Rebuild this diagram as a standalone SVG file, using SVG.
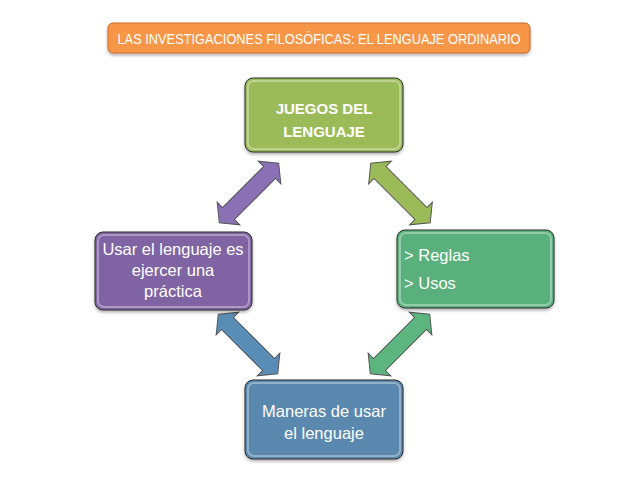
<svg xmlns="http://www.w3.org/2000/svg" xmlns:xlink="http://www.w3.org/1999/xlink" width="638" height="479" viewBox="0 0 638 479">
<style>
.t{font-family:"Liberation Sans",Arial,sans-serif;fill:#fff}
.node{stroke:#2f2f2f;stroke-width:1}
.bevel{fill:none;stroke:#fff;stroke-opacity:0.35;stroke-width:2}
.arr{stroke:#555;stroke-width:1;stroke-linejoin:miter}
</style>
<defs>
<path id="dblarrow" d="M-42,0 L-29,-16 L-29,-8.5 L29,-8.5 L29,-16 L42,0 L29,16 L29,8.5 L-29,8.5 L-29,16 Z"/>
<filter id="sh" x="-10%" y="-10%" width="120%" height="130%">
<feDropShadow dx="0" dy="2" stdDeviation="1.5" flood-color="#000" flood-opacity="0.3"/>
</filter>
</defs>
<rect width="638" height="479" fill="#fff"/>
<g id="title">
<rect x="108" y="23" width="422" height="30" rx="5" fill="#F79646" stroke="#C8682A" stroke-width="1" filter="url(#sh)"/>
<text class="t" x="319" y="44" font-size="14" text-anchor="middle" textLength="403" lengthAdjust="spacingAndGlyphs">LAS INVESTIGACIONES FILOSÓFICAS: EL LENGUAJE ORDINARIO</text>
</g>
<g id="connectors">
<use xlink:href="#dblarrow" class="arr" fill="#8A71B5" transform="translate(249,193) rotate(-45)"/>
<use xlink:href="#dblarrow" class="arr" fill="#9BBB59" transform="translate(400.5,193) rotate(45)"/>
<use xlink:href="#dblarrow" class="arr" fill="#5A8DB6" transform="translate(248,344) rotate(45)"/>
<use xlink:href="#dblarrow" class="arr" fill="#5CB47E" transform="translate(400,344) rotate(-45)"/>
</g>
<g id="juegos">
<rect class="node" x="245" y="78" width="158" height="74" rx="8" fill="#9BBB59" filter="url(#sh)"/>
<rect class="bevel" x="248" y="81" width="152" height="68" rx="6"/>
<text class="t" x="324" y="114" font-size="15" font-weight="bold" text-anchor="middle">JUEGOS DEL</text>
<text class="t" x="324" y="137" font-size="15" font-weight="bold" text-anchor="middle">LENGUAJE</text>
</g>
<g id="usar">
<rect class="node" x="95" y="232" width="157" height="78" rx="8" fill="#8064A2" filter="url(#sh)"/>
<rect class="bevel" x="98" y="235" width="151" height="72" rx="6"/>
<text class="t" x="173" y="255" font-size="16.5" text-anchor="middle">Usar el lenguaje es</text>
<text class="t" x="173" y="276" font-size="16.5" text-anchor="middle">ejercer una</text>
<text class="t" x="173" y="297" font-size="16.5" text-anchor="middle">práctica</text>
</g>
<g id="reglas">
<rect class="node" x="397" y="230" width="157" height="78" rx="8" fill="#5AB07B" filter="url(#sh)"/>
<rect class="bevel" x="400" y="233" width="151" height="72" rx="6"/>
<text class="t" x="404" y="261" font-size="16.5">&gt; Reglas</text>
<text class="t" x="404" y="289" font-size="16.5">&gt; Usos</text>
</g>
<g id="maneras">
<rect class="node" x="245" y="380" width="158" height="79" rx="8" fill="#5A88AE" filter="url(#sh)"/>
<rect class="bevel" x="248" y="383" width="152" height="73" rx="6"/>
<text class="t" x="324" y="417" font-size="16.5" text-anchor="middle">Maneras de usar</text>
<text class="t" x="324" y="439" font-size="16.5" text-anchor="middle">el lenguaje</text>
</g>
</svg>
